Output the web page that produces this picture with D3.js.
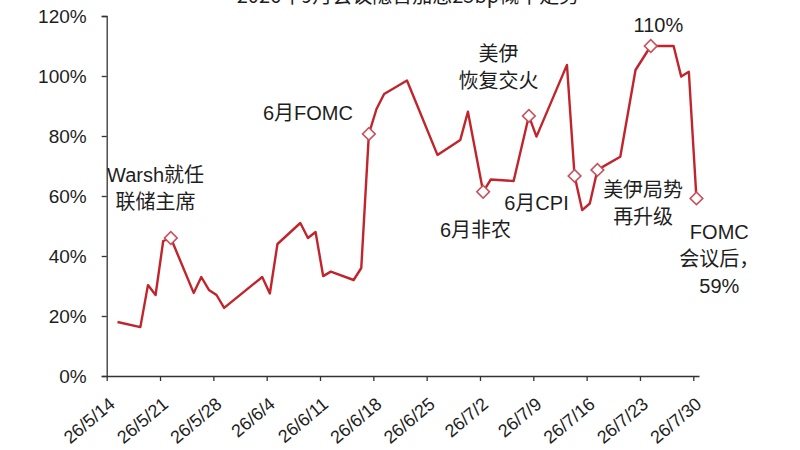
<!DOCTYPE html>
<html>
<head>
<meta charset="utf-8">
<script src="https://cdn.jsdelivr.net/npm/d3@7"></script>
<style>
  html, body { margin: 0; padding: 0; background: #fff; }
  svg { display: block; }
  text { font-family: "Liberation Sans", Arial, "Noto Sans CJK SC", sans-serif; fill: #1e1e1e; }
</style>
</head>
<body>
<svg id="chart" width="800" height="450"></svg>
<script>
// ---------- data ----------
const title = "2026年9月会议隐含加息25bp概率走势";
const dates = ["5/15","5/18","5/19","5/20","5/21","5/22","5/25","5/26","5/27","5/28","5/29",
  "6/3","6/4","6/5","6/8","6/9","6/10","6/11","6/12","6/15","6/16","6/17","6/18","6/19","6/22",
  "6/26","6/29","6/30","7/2","7/3","7/6","7/8","7/9","7/13","7/14","7/15","7/16","7/17",
  "7/20","7/22","7/23","7/24","7/27","7/28","7/29","7/30"];
const values = [18,16.3,30.3,27,45,46,27.7,33,28.7,27,22.7,
  33,27.5,44,51,46,48,33.3,34.8,32,36,80.7,89,94,98.5,
  73.7,78.7,88.1,61.4,65.5,65,86.7,79.8,103.7,66.7,55.3,57.5,68.7,
  73.1,102,106,110,110,99.8,101.4,59.2];
const markerDates = ["5/22","6/17","7/2","7/8","7/14","7/17","7/24","7/30"];
const yTicks = [0,20,40,60,80,100,120];
const xTickLabels = ["26/5/14","26/5/21","26/5/28","26/6/4","26/6/11","26/6/18","26/6/25",
  "26/7/2","26/7/9","26/7/16","26/7/23","26/7/30"];
const annotations = [
  {lines:["Warsh就任","联储主席"], date:"5/20", value:67},
  {lines:["6月FOMC"], date:"6/9", value:87.7},
  {lines:["美伊","恢复交火"], date:"7/4", value:107.3},
  {lines:["6月CPI"], date:"7/9", value:57.7},
  {lines:["6月非农"], date:"7/1", value:48.7},
  {lines:["110%"], date:"7/25", value:117},
  {lines:["美伊局势","再升级"], date:"7/23", value:62},
  {lines:["FOMC","会议后，","59%"], date:"8/2", value:48}
];

// ---------- helpers ----------
function toDate(s, hour) {
  const [m, d] = s.split("/").map(Number);
  return new Date(2026, m - 1, d, hour || 0);
}
function labelToDate(s) {
  const [y, m, d] = s.split("/").map(Number);
  return new Date(2000 + y, m - 1, d);
}
const OBS_HOUR = 10;
const data = dates.map((d, i) => ({date: toDate(d, OBS_HOUR), value: values[i], key: d}));

// ---------- layout ----------
const svg = d3.select("#chart");
const x = d3.scaleTime()
  .domain([new Date(2026, 4, 14), new Date(2026, 6, 30, 18)])
  .range([106.7, 699]);
const y = d3.scaleLinear().domain([0, 120]).range([376, 16]);

// title (cut off at top like reference)
svg.append("text")
  .attr("x", 408).attr("y", 3)
  .attr("text-anchor", "middle")
  .style("font-size", "20px")
  .style("font-family", "'Noto Sans CJK SC', sans-serif")
  .text(title);

// y axis
const yAxis = svg.append("g")
  .attr("transform", `translate(${x.range()[0]},0)`)
  .call(d3.axisLeft(y).tickValues(yTicks).tickFormat(d => d + "%").tickSize(5).tickPadding(15));
yAxis.selectAll("text").style("font-size", "19px").attr("fill", "#1e1e1e");
yAxis.selectAll("line, path").attr("stroke", "#333").attr("stroke-width", 1.3);

// x axis
const xTicks = xTickLabels.map(labelToDate);
const xAxis = svg.append("g")
  .attr("transform", `translate(0,${y(0)})`)
  .call(d3.axisBottom(x).tickValues(xTicks).tickSize(5).tickSizeOuter(0)
    .tickFormat((d, i) => xTickLabels[i]));
xAxis.selectAll("line, path").attr("stroke", "#333").attr("stroke-width", 1.3);
xAxis.selectAll("text")
  .style("font-size", "18px")
  .attr("fill", "#1e1e1e")
  .attr("text-anchor", "end")
  .attr("dy", 0)
  .attr("y", 0)
  .attr("transform", "translate(9,30) rotate(-40)");

// line
const line = d3.line().x(d => x(d.date)).y(d => y(d.value));
svg.append("path")
  .datum(data)
  .attr("fill", "none")
  .attr("stroke", "#c2242c")
  .attr("stroke-width", 2.4)
  .attr("stroke-linejoin", "round")
  .attr("d", line);

// markers
const markers = data.filter(d => markerDates.includes(d.key));
svg.append("g").selectAll("path")
  .data(markers)
  .join("path")
  .attr("d", d3.symbol(d3.symbolSquare).size(80))
  .attr("transform", d => `translate(${x(d.date)},${y(d.value)}) rotate(45)`)
  .attr("fill", "#fff")
  .attr("stroke", "#c9505a")
  .attr("stroke-width", 1.6);

// annotations
const ann = svg.append("g");
annotations.forEach(a => {
  const cx = x(toDate(a.date, OBS_HOUR));
  const cy = y(a.value);
  const t = ann.append("text")
    .attr("x", cx).attr("y", cy)
    .attr("text-anchor", "middle")
    .style("font-size", "20px");
  a.lines.forEach((ln, i) => {
    t.append("tspan")
      .attr("x", cx)
      .attr("y", cy + i * 27)
      .attr("dominant-baseline", "central")
      .text(ln);
  });
});
</script>
</body>
</html>
